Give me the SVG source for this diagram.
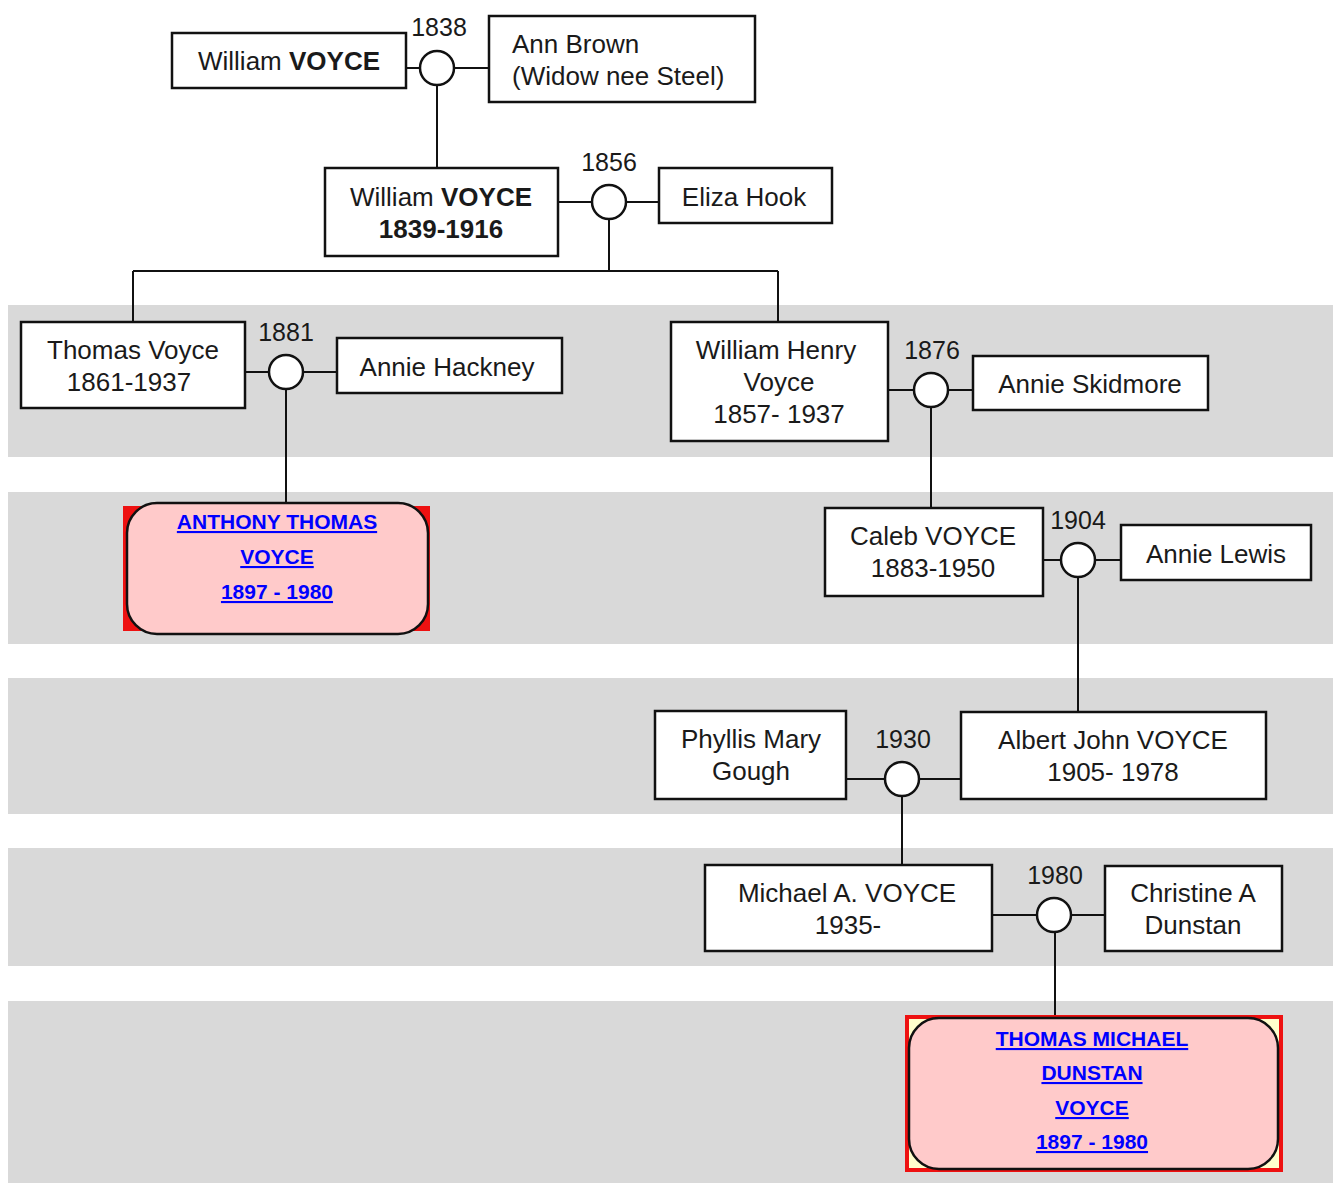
<svg xmlns="http://www.w3.org/2000/svg" width="1338" height="1183" viewBox="0 0 1338 1183">
<style>
.band{fill:#d9d9d9}
.box{fill:#fff;stroke:#111;stroke-width:2.5}
.t{font-family:"Liberation Sans",Arial,sans-serif;font-size:26px;fill:#1a1a1a;text-anchor:middle}
.tl{font-family:"Liberation Sans",Arial,sans-serif;font-size:26px;fill:#1a1a1a}
.yr{font-family:"Liberation Sans",Arial,sans-serif;font-size:25px;fill:#1a1a1a;text-anchor:middle}
.b{font-weight:bold}
.ring{fill:#fff;stroke:#111;stroke-width:2.5}
.ln{stroke:#111;stroke-width:2;fill:none}
.pink{fill:#ffcaca;stroke:#111;stroke-width:2.5}
.lk{font-family:"Liberation Sans",Arial,sans-serif;font-size:21px;font-weight:bold;fill:#0000ff;text-anchor:middle;text-decoration:underline}
</style>
<rect width="1338" height="1183" fill="#fff"/>
<g id="bands">
<rect class="band" x="8" y="305" width="1325" height="152"/>
<rect class="band" x="8" y="492" width="1325" height="152"/>
<rect class="band" x="8" y="678" width="1325" height="136"/>
<rect class="band" x="8" y="848" width="1325" height="118"/>
<rect class="band" x="8" y="1001" width="1325" height="182"/>
</g>
<g id="connectors">
<path class="ln" d="M406 68H420M454 68H489M437 85V168"/>
<path class="ln" d="M551 202H592M626 202H659M609 219V271M133 271H778M133 271V322M778 271V322"/>
<path class="ln" d="M245 372H269M303 372H337M286 389V503"/>
<path class="ln" d="M888 390H914M948 390H973M931 407V508"/>
<path class="ln" d="M1043 560H1061M1095 560H1121M1078 577V712"/>
<path class="ln" d="M846 779H885M919 779H960M902 796V865"/>
<path class="ln" d="M992 915H1037M1071 915H1105M1055 932V1017"/>
</g>
<g id="m1838"><circle class="ring" cx="437" cy="68" r="17"/><text class="yr" x="439" y="36">1838</text></g>
<g id="m1856"><circle class="ring" cx="609" cy="202" r="17"/><text class="yr" x="609" y="171">1856</text></g>
<g id="m1881"><circle class="ring" cx="286" cy="372" r="17"/><text class="yr" x="286" y="341">1881</text></g>
<g id="m1876"><circle class="ring" cx="931" cy="390" r="17"/><text class="yr" x="932" y="359">1876</text></g>
<g id="m1904"><circle class="ring" cx="1078" cy="560" r="17"/><text class="yr" x="1078" y="529">1904</text></g>
<g id="m1930"><circle class="ring" cx="902" cy="779" r="17"/><text class="yr" x="903" y="748">1930</text></g>
<g id="m1980"><circle class="ring" cx="1054" cy="915" r="17"/><text class="yr" x="1055" y="884">1980</text></g>
<g id="william-sr"><rect class="box" x="172" y="33" width="234" height="55"/><text class="t" x="289" y="70">William <tspan class="b">VOYCE</tspan></text></g>
<g id="ann-brown"><rect class="box" x="489" y="16" width="266" height="86"/><text class="tl" x="512" y="53">Ann Brown</text><text class="tl" x="512" y="85">(Widow nee Steel)</text></g>
<g id="william-1839"><rect class="box" x="325" y="168" width="233" height="88"/><text class="t" x="441" y="206">William <tspan class="b">VOYCE</tspan></text><text class="t b" x="441" y="238">1839-1916</text></g>
<g id="eliza-hook"><rect class="box" x="659" y="168" width="173" height="55"/><text class="t" x="744" y="206">Eliza Hook</text></g>
<g id="thomas-voyce"><rect class="box" x="21" y="322" width="224" height="86"/><text class="t" x="133" y="359">Thomas Voyce</text><text class="t" x="129" y="391">1861-1937</text></g>
<g id="annie-hackney"><rect class="box" x="337" y="338" width="225" height="55"/><text class="t" x="447" y="376">Annie Hackney</text></g>
<g id="william-henry"><rect class="box" x="671" y="322" width="217" height="119"/><text class="t" x="776" y="359">William Henry</text><text class="t" x="779" y="391">Voyce</text><text class="t" x="779" y="423">1857- 1937</text></g>
<g id="annie-skidmore"><rect class="box" x="973" y="356" width="235" height="54"/><text class="t" x="1090" y="393">Annie Skidmore</text></g>
<g id="anthony-thomas"><rect x="123" y="506" width="307" height="125" fill="#ee1111"/><rect class="pink" x="127" y="503" width="301" height="131" rx="30"/><text class="lk" x="277" y="529">ANTHONY THOMAS</text><text class="lk" x="277" y="564">VOYCE</text><text class="lk" x="277" y="599">1897 - 1980</text></g>
<g id="caleb"><rect class="box" x="825" y="508" width="218" height="88"/><text class="t" x="933" y="545">Caleb VOYCE</text><text class="t" x="933" y="577">1883-1950</text></g>
<g id="annie-lewis"><rect class="box" x="1121" y="525" width="190" height="55"/><text class="t" x="1216" y="563">Annie Lewis</text></g>
<g id="phyllis"><rect class="box" x="655" y="711" width="191" height="88"/><text class="t" x="751" y="748">Phyllis Mary</text><text class="t" x="751" y="780">Gough</text></g>
<g id="albert"><rect class="box" x="961" y="712" width="305" height="87"/><text class="t" x="1113" y="749">Albert John VOYCE</text><text class="t" x="1113" y="781">1905- 1978</text></g>
<g id="michael"><rect class="box" x="705" y="865" width="287" height="86"/><text class="t" x="847" y="902">Michael A. VOYCE</text><text class="t" x="848" y="934">1935-</text></g>
<g id="christine"><rect class="box" x="1105" y="866" width="177" height="85"/><text class="t" x="1193" y="902">Christine A</text><text class="t" x="1193" y="934">Dunstan</text></g>
<g id="thomas-michael"><rect x="907" y="1017" width="374" height="153" fill="#ffffcc" stroke="#ee1111" stroke-width="4"/><rect class="pink" x="909" y="1018" width="369" height="151" rx="30"/><text class="lk" x="1092" y="1046">THOMAS MICHAEL</text><text class="lk" x="1092" y="1080">DUNSTAN</text><text class="lk" x="1092" y="1115">VOYCE</text><text class="lk" x="1092" y="1149">1897 - 1980</text></g>
</svg>
